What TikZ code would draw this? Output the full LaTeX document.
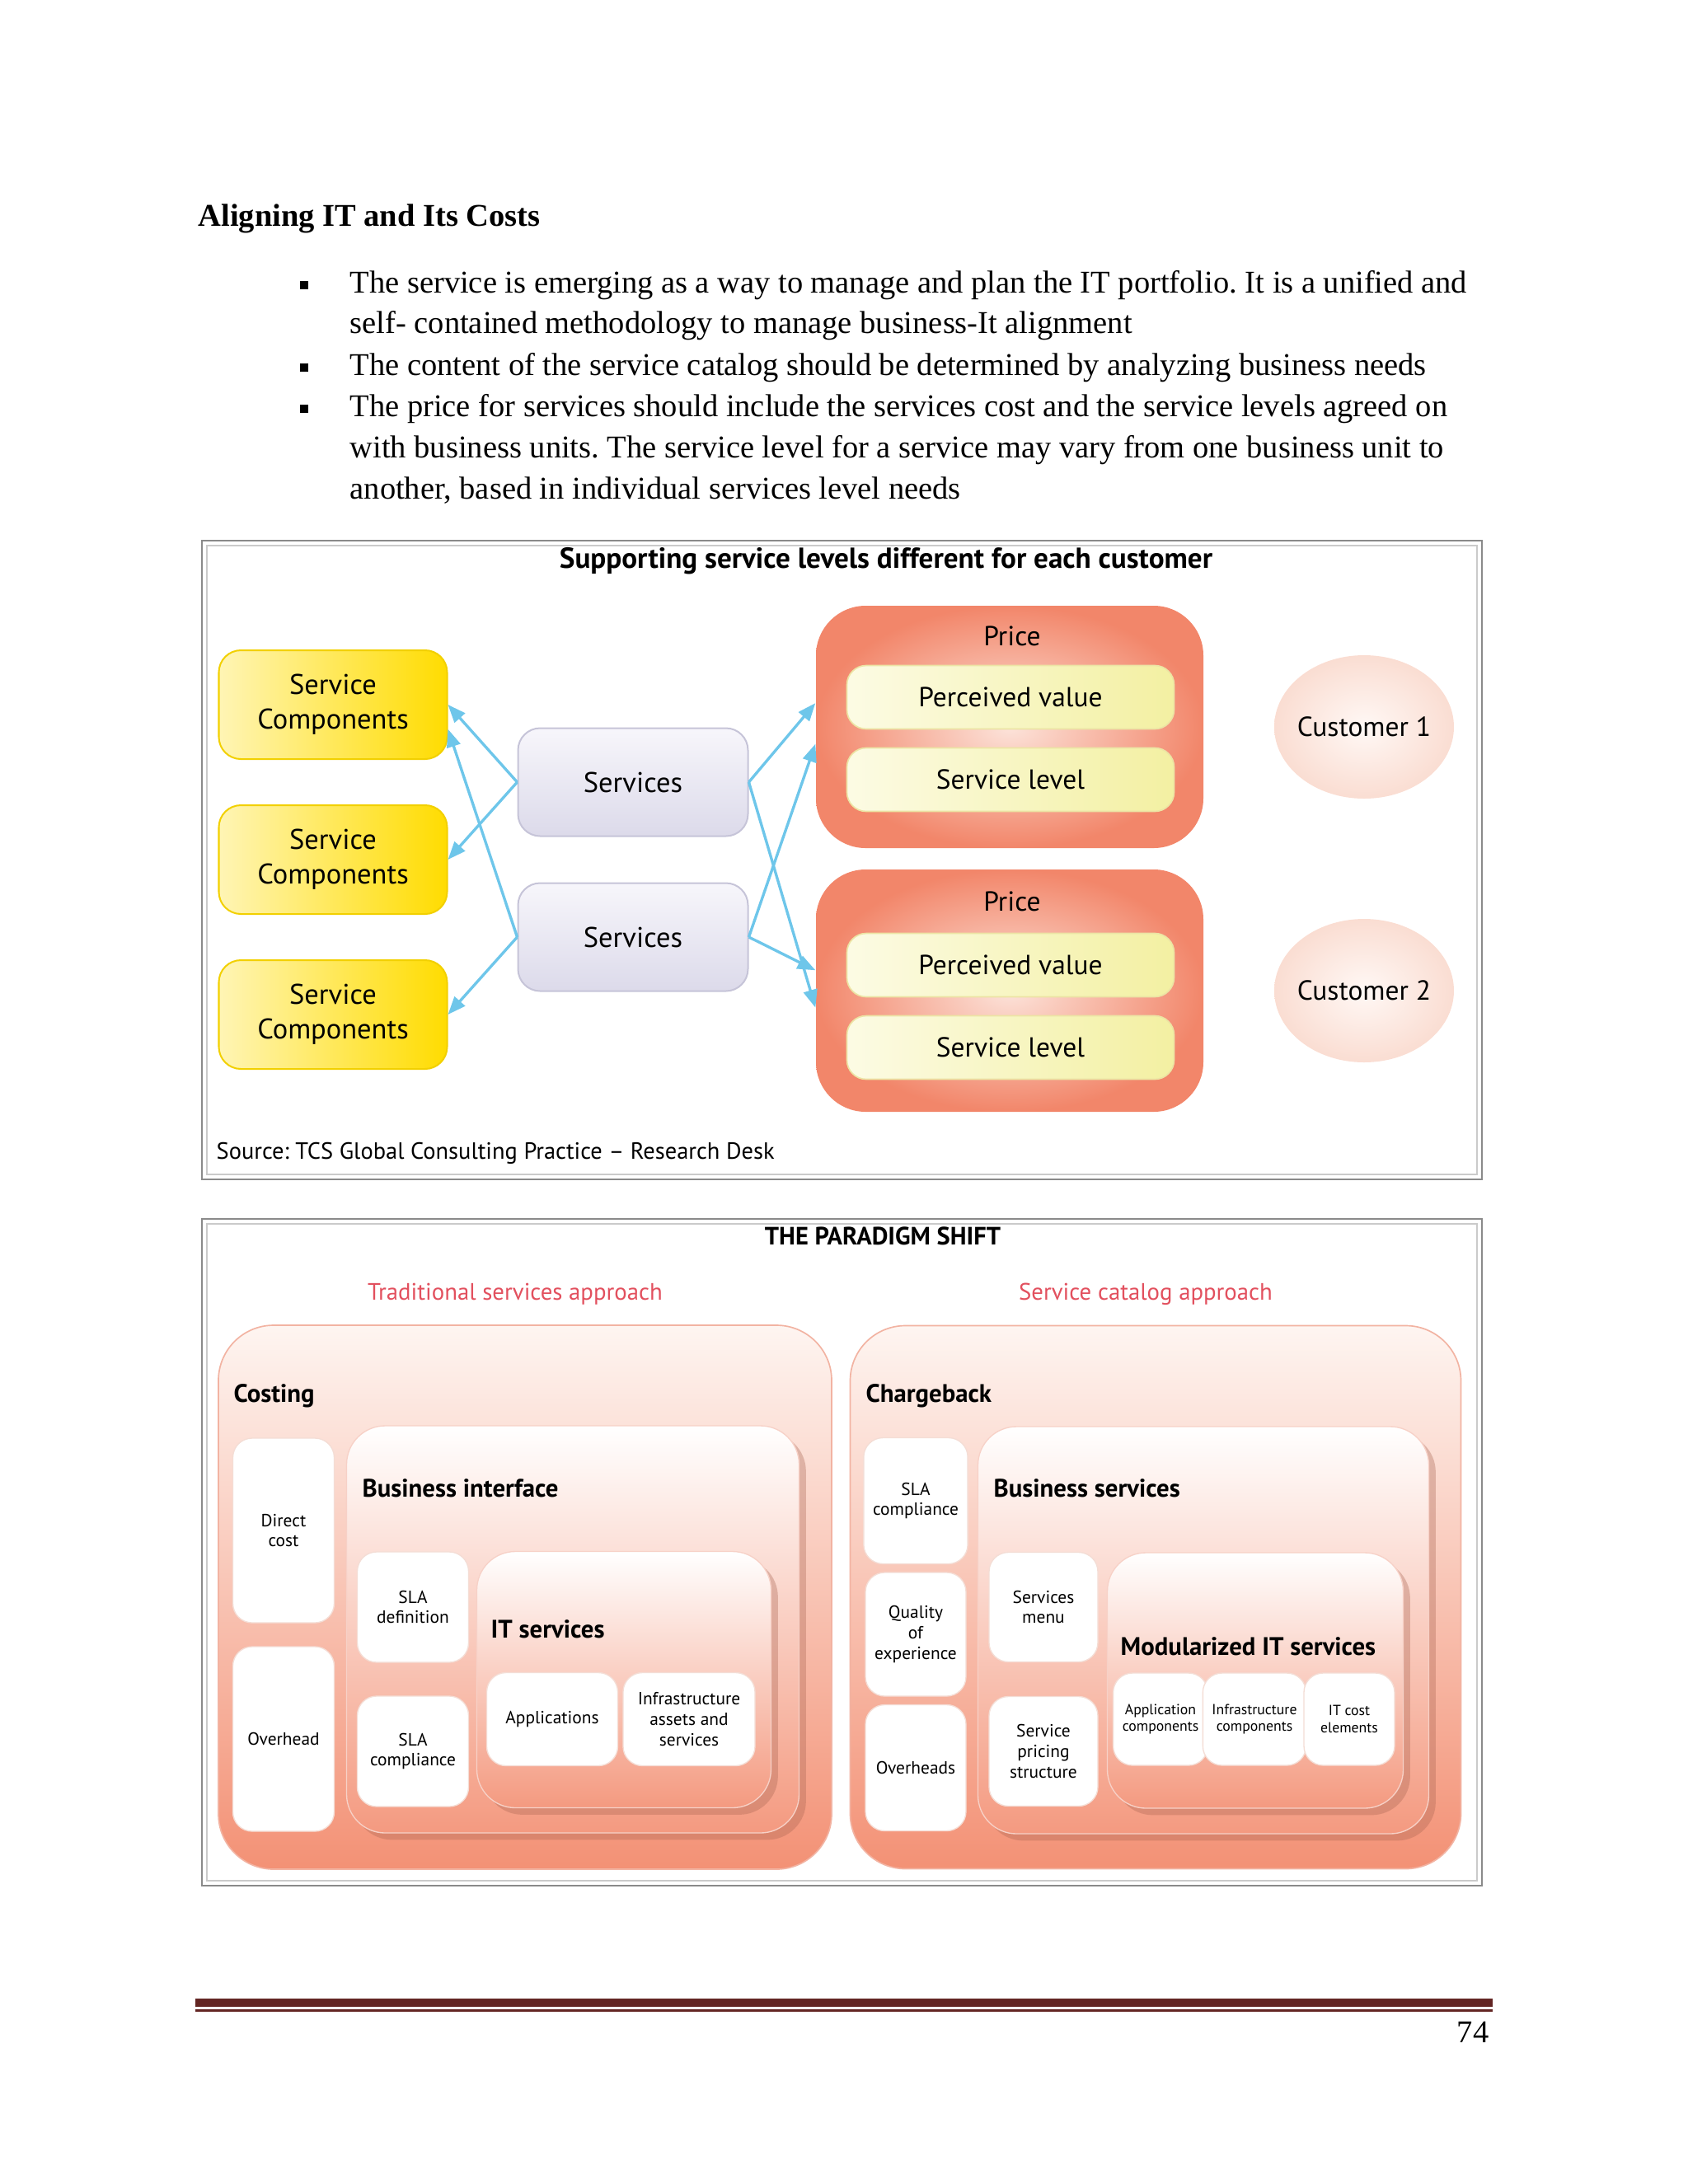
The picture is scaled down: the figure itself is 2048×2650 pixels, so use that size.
\documentclass[tikz,border=0pt]{standalone}
\usepackage{fontspec}
\setmainfont{Liberation Serif}
\newfontfamily\diagfont{PT Sans}
\usetikzlibrary{arrows.meta,shadows,shapes.geometric}
\frenchspacing

\definecolor{arrowblue}{HTML}{6EC6EA}
\definecolor{ybright}{HTML}{FFDC00}
\definecolor{ypale}{HTML}{FFF5B5}
\definecolor{yedge}{HTML}{F2D000}
\definecolor{lavlight}{HTML}{F7F6FB}
\definecolor{lavdark}{HTML}{DCDAEA}
\definecolor{lavedge}{HTML}{C6C4D8}
\definecolor{salmon}{HTML}{F2866A}
\definecolor{salmonpale}{HTML}{FCE3DA}
\definecolor{limedark}{HTML}{F3F0A2}
\definecolor{limepale}{HTML}{FCFBE4}
\definecolor{limeedge}{HTML}{ECE4A4}
\definecolor{custpale}{HTML}{FFF8F5}
\definecolor{custpink}{HTML}{FADDD2}
\definecolor{approachred}{HTML}{E2505E}
\definecolor{boxtop}{HTML}{FEF5F1}
\definecolor{boxbottom}{HTML}{F39175}
\definecolor{boxedge}{HTML}{F2B3A2}
\definecolor{whiteedge}{HTML}{F4DDD5}
\definecolor{footmaroon}{HTML}{632523}
\definecolor{framegray}{HTML}{8A8A8A}
\newcommand{\pxu}{0.29883pt}

\begin{document}
\begin{tikzpicture}[x=0.29883pt,y=-0.29883pt,
bodytext/.style={anchor=base west,inner sep=0pt,font=\fontsize{11.5}{14}\selectfont},
headtext/.style={bodytext,font=\fontsize{11.5}{14}\selectfont\bfseries},
bulletsq/.style={fill=black,inner sep=0pt,minimum size=3pt},
frameout/.style={draw=framegray,line width=0.8pt},
framein/.style={draw=framegray!45,line width=0.6pt},
diagtitle/.style={inner sep=0pt,font=\diagfont\bfseries\fontsize{10.5}{12}\selectfont},
comp/.style={draw=yedge,line width=0.6pt,rounded corners=8pt,left color=ypale,right color=ybright,
  minimum width=277*\pxu,minimum height=132*\pxu,align=center,font=\diagfont\fontsize{10.3}{12.5}\selectfont},
svc/.style={draw=lavedge,line width=0.6pt,rounded corners=8pt,top color=lavlight,bottom color=lavdark,
  minimum width=279*\pxu,minimum height=131*\pxu,font=\diagfont\fontsize{10.3}{12}\selectfont},
price/.style={rounded corners=18pt,inner color=salmonpale,outer color=salmon,
  minimum width=470*\pxu,minimum height=294*\pxu},
level/.style={draw=limeedge,line width=0.5pt,rounded corners=7pt,left color=limepale,right color=limedark,
  minimum width=397*\pxu,minimum height=77*\pxu,font=\diagfont\fontsize{10}{12}\selectfont},
cust/.style={ellipse,inner sep=0pt,inner color=custpale,outer color=custpink,
  minimum width=218*\pxu,minimum height=174*\pxu},
custtext/.style={inner sep=0pt,font=\diagfont\fontsize{10}{12}\selectfont},
plain/.style={inner sep=0pt,font=\diagfont\fontsize{10}{12}\selectfont},
link/.style={draw=arrowblue,line width=1pt,-{Triangle[length=6.5pt,width=5pt]}},
approach/.style={inner sep=0pt,text=approachred,font=\diagfont\fontsize{8.6}{10}\selectfont},
bigbox/.style={draw=boxedge,line width=0.5pt,rounded corners=20pt,top color=boxtop,bottom color=boxbottom},
midbox/.style={draw=boxedge!60,line width=0.4pt,rounded corners=14pt,top color=white,bottom color=boxbottom!92,
  drop shadow={shadow xshift=2.5pt,shadow yshift=-2.5pt,fill=boxbottom!70!black,opacity=0.35}},
whitebox/.style={draw=whiteedge,line width=0.4pt,rounded corners=7pt,fill=white,align=center,
  font=\diagfont\fontsize{6.4}{7.4}\selectfont},
tinybox/.style={whitebox,font=\diagfont\fontsize{5.3}{6.2}\selectfont},
boxtitle/.style={anchor=west,inner sep=0pt,font=\diagfont\bfseries\fontsize{9.2}{11}\selectfont}]

\useasboundingbox (0,0) rectangle (2048,2650);

\node[headtext] (head) at (240,274) {Aligning IT and Its Costs};

\node[bulletsq] (b1) at (369,346) {};
\node[bodytext] (l1) at (424,355) {The service is emerging as a way to manage and plan the IT portfolio. It is a unified and};
\node[bodytext] (l2) at (424,404) {self- contained methodology to manage business-It alignment};
\node[bulletsq] (b2) at (369,446) {};
\node[bodytext] (l3) at (424,455) {The content of the service catalog should be determined by analyzing business needs};
\node[bulletsq] (b3) at (369,496) {};
\node[bodytext] (l4) at (424,505) {The price for services should include the services cost and the service levels agreed on};
\node[bodytext] (l5) at (424,555) {with business units. The service level for a service may vary from one business unit to};
\node[bodytext] (l6) at (424,605) {another, based in individual services level needs};

% service levels per customer
\draw[frameout] (245,656) rectangle (1798,1431);
\draw[framein] (251,662) rectangle (1792,1425);
\node[diagtitle] (t1) at (1075,681) {Supporting service levels different for each customer};

\node[comp] (sc1) at (404,855) {Service\\Components};
\node[comp] (sc2) at (404,1043) {Service\\Components};
\node[comp] (sc3) at (404,1231) {Service\\Components};

\node[svc] (s1) at (768,949) {Services};
\node[svc] (s2) at (768,1137) {Services};

\node[price] (p1) at (1225,882) {};
\node[plain] (pt1) at (1228,772) {Price};
\node[level] (pv1) at (1226,846) {Perceived value};
\node[level] (sl1) at (1226,946) {Service level};

\node[price] (p2) at (1225,1202) {};
\node[plain] (pt2) at (1228,1094) {Price};
\node[level] (pv2) at (1226,1171) {Perceived value};
\node[level] (sl2) at (1226,1271) {Service level};

\node[cust,label={[custtext]center:Customer 1}] (c1) at (1655,882) {};
\node[cust,label={[custtext]center:Customer 2}] (c2) at (1655,1202) {};

\draw[link] (s1.west) -- (sc1.east);
\draw[link] (s1.west) -- (sc2.east);
\draw[link] (s2.west) -- (sc1.-12);
\draw[link] (s2.west) -- (sc3.east);
\draw[link] (s1.east) -- (p1.173);
\draw[link] (s1.east) -- (p2.185);
\draw[link] (s2.east) -- (p1.185);
\draw[link] (s2.east) -- (p2.174);

\node[plain,anchor=west,font=\diagfont\fontsize{8.5}{10}\selectfont] (src) at (262,1399) {Source: TCS Global Consulting Practice – Research Desk};

% paradigm shift
\draw[frameout] (245,1479) rectangle (1798,2288);
\draw[framein] (251,1485) rectangle (1792,2282);
\node[diagtitle,font=\diagfont\bfseries\fontsize{9.1}{11}\selectfont] (t2) at (1071,1500) {THE PARADIGM SHIFT};
\node[approach] (trad) at (625,1570) {Traditional services approach};
\node[approach] (cat) at (1390,1570) {Service catalog approach};

\node[bigbox,minimum width=744*\pxu,minimum height=660*\pxu] (costbox) at (637,1938) {};
\node[boxtitle] (costing) at (283,1694) {Costing};
\node[whitebox,minimum width=123*\pxu,minimum height=224*\pxu] (direct) at (344,1857) {Direct\\cost};
\node[whitebox,minimum width=123*\pxu,minimum height=224*\pxu] (overhead) at (344,2110) {Overhead};
\node[midbox,minimum width=549*\pxu,minimum height=494*\pxu] (bizif) at (695,1977) {};
\node[boxtitle] (biziftitle) at (439,1806) {Business interface};
\node[whitebox,minimum width=135*\pxu,minimum height=134*\pxu] (sladef) at (501,1950) {SLA\\definition};
\node[whitebox,minimum width=135*\pxu,minimum height=134*\pxu] (slacomp) at (501,2125) {SLA\\compliance};
\node[midbox,minimum width=357*\pxu,minimum height=311*\pxu] (itsvc) at (757,2038) {};
\node[boxtitle] (itsvctitle) at (595,1977) {IT services};
\node[whitebox,minimum width=159*\pxu,minimum height=113*\pxu] (apps) at (670,2086) {Applications};
\node[whitebox,minimum width=160*\pxu,minimum height=113*\pxu] (infra) at (836,2086) {Infrastructure\\assets and\\services};

\node[bigbox,minimum width=741*\pxu,minimum height=659*\pxu] (chargebox) at (1402,1938) {};
\node[boxtitle] (chargeback) at (1050,1694) {Chargeback};
\node[whitebox,minimum width=122*\pxu,minimum height=153*\pxu] (slacomp2) at (1111,1821) {SLA\\compliance};
\node[whitebox,minimum width=122*\pxu,minimum height=150*\pxu] (quality) at (1111,1983) {Quality\\of\\experience};
\node[whitebox,minimum width=122*\pxu,minimum height=153*\pxu] (overheads) at (1111,2145) {Overheads};
\node[midbox,minimum width=547*\pxu,minimum height=494*\pxu] (bizsvc) at (1460,1978) {};
\node[boxtitle] (bizsvctitle) at (1205,1806) {Business services};
\node[whitebox,minimum width=132*\pxu,minimum height=133*\pxu] (menu) at (1266,1950) {Services\\menu};
\node[whitebox,minimum width=132*\pxu,minimum height=133*\pxu] (pricing) at (1266,2125) {Service\\pricing\\structure};
\node[midbox,minimum width=359*\pxu,minimum height=310*\pxu] (modit) at (1523,2039) {};
\node[boxtitle] (modittitle) at (1359,1998) {Modularized IT services};
\node[tinybox,minimum width=110*\pxu,minimum height=112*\pxu] (appcomp) at (1408,2086) {Application\\components};
\node[tinybox,minimum width=109*\pxu,minimum height=112*\pxu] (infracomp) at (1522,2086) {Infrastructure\\components};
\node[tinybox,minimum width=110*\pxu,minimum height=112*\pxu] (itcost) at (1637,2086) {IT cost\\elements};

% footer
\fill[footmaroon] (237,2425) rectangle (1811,2435);
\fill[footmaroon] (237,2438) rectangle (1811,2441);
\node[inner sep=0pt,anchor=base east,font=\fontsize{11.5}{14}\selectfont] (pagenum) at (1807,2478) {74};

\end{tikzpicture}
\end{document}
